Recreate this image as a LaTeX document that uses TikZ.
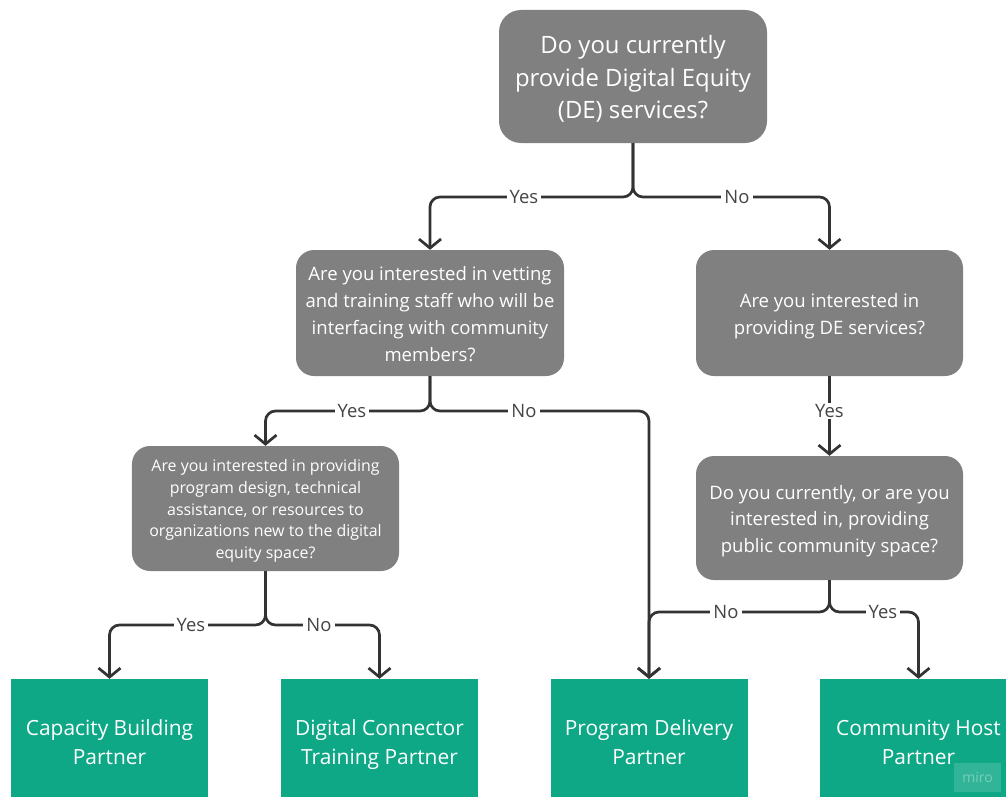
\documentclass[tikz,border=0pt]{standalone}
\usepackage{fontspec}
\setmainfont{Open Sans}
\usetikzlibrary{arrows.meta}
\definecolor{qgray}{HTML}{808080}
\definecolor{pgreen}{HTML}{0FA887}
\definecolor{lnk}{HTML}{333333}
\definecolor{labc}{HTML}{444444}
\newcommand\mystr{\rule[-0.2\baselineskip]{0pt}{\baselineskip}}
\begin{document}
\begin{tikzpicture}[x=1bp,y=-1bp,
  qbox/.style={fill=qgray, rounded corners=18bp, text=white, align=center, inner sep=0pt,
    minimum width=268bp, minimum height=126bp},
  pbox/.style={fill=pgreen, text=white, align=center, inner sep=0pt,
    minimum width=197bp, minimum height=124bp, font=\fontsize{21}{29}\selectfont},
  link/.style={draw=lnk, line width=2.7bp, rounded corners=10bp,
    -{Straight Barb[length=9bp,width=22bp]}},
  lab/.style={fill=white, text=labc, inner xsep=3bp, inner ysep=1bp, font=\fontsize{18.5}{22}\selectfont}
]
\useasboundingbox (0,0) rectangle (1006,797);
\clip (0,0) rectangle (1006,797);

% question boxes
\node[qbox, minimum height=133bp, rounded corners=22bp, font=\fontsize{24}{32.5}\selectfont] (q1) at (633,76.5)
  {\mystr Do you currently\\\mystr provide Digital Equity\\\mystr (DE) services?};
\node[qbox, font=\fontsize{18.6}{27}\selectfont] (q2) at (430,313)
  {\mystr Are you interested in vetting\\\mystr and training staff who will be\\\mystr interfacing with community\\\mystr members?};
\node[qbox, minimum width=267bp, font=\fontsize{18.6}{27}\selectfont] (q3) at (829.5,313)
  {\mystr Are you interested in\\\mystr providing DE services?};
\node[qbox, minimum width=267bp, minimum height=124bp, font=\fontsize{18.6}{26.5}\selectfont] (q4) at (829.5,518)
  {\mystr Do you currently, or are you\\\mystr interested in, providing\\\mystr public community space?};
\node[qbox, minimum width=267bp, minimum height=125bp, font=\fontsize{16}{22}\selectfont] (q5) at (265.5,508.5)
  {\mystr Are you interested in providing\\\mystr program design, technical\\\mystr assistance, or resources to\\\mystr organizations new to the digital\\\mystr equity space?};

% partner boxes
\node[pbox] (p1) at (109.5,741) {\mystr Capacity Building\\\mystr Partner};
\node[pbox] (p2) at (379.5,741) {\mystr Digital Connector\\\mystr Training Partner};
\node[pbox] (p3) at (649,741) {\mystr Program Delivery\\\mystr Partner};
\node[pbox] (p4) at (918.5,741) {\mystr Community Host\\\mystr Partner};

% junction coordinates
\coordinate (j1) at (633,197);
\coordinate (j2) at (430,411);
\coordinate (j4) at (829.5,612);
\coordinate (j5) at (265.5,625);

% connectors
\draw[link] (q1.south) -- (j1) -| (q2.north);
\draw[link] (q1.south) -- (j1) -| (q3.north);
\draw[link] (q2.south) -- (j2) -| (q5.north);
\draw[link] (q2.south) -- (j2) -| (p3.north);
\draw[link] (q3.south) -- (q4.north);
\draw[link] (q4.south) -- (j4) -| (p3.north);
\draw[link] (q4.south) -- (j4) -| (p4.north);
\draw[link] (q5.south) -- (j5) -| (p1.north);
\draw[link] (q5.south) -- (j5) -| (p2.north);

% labels
\node[lab] (l1) at (524,197) {Yes};
\node[lab] (l2) at (737,197) {No};
\node[lab] (l3) at (352,411) {Yes};
\node[lab] (l4) at (524,411) {No};
\node[lab] (l5) at (829.5,411) {Yes};
\node[lab] (l6) at (726,612) {No};
\node[lab] (l7) at (883,612) {Yes};
\node[lab] (l8) at (191,625) {Yes};
\node[lab] (l9) at (319,625) {No};

% watermark
\node[fill=white, fill opacity=0.15, text opacity=0.35, text=white, minimum width=47bp, minimum height=29bp,
  inner sep=0pt, font=\fontsize{14}{16}\selectfont] (wm) at (977.5,777.5) {miro};
\end{tikzpicture}
\end{document}
